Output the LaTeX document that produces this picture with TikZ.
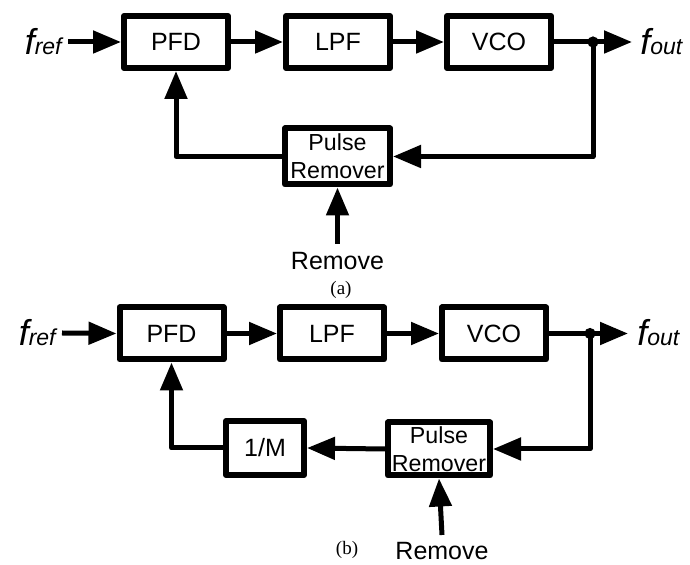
\documentclass[tikz,border=0pt]{standalone}
\usepackage{fontspec}
\setmainfont{Liberation Sans}
\newfontfamily\capfont{Liberation Serif}
\usetikzlibrary{arrows.meta}

% signal name: big italic f with a smaller italic tag
\newcommand\fsig[1]{{\fontsize{18}{18}\selectfont\itshape f}{\fontsize{11.5}{12}\selectfont\itshape #1}}

\begin{document}
\begin{tikzpicture}[x=0.5pt, y=-0.5pt, line join=round, >={Triangle[length=14pt,width=11pt]},
	blk/.style={draw, line width=3pt, minimum width=52pt, minimum height=26pt, inner sep=1pt,
		align=center, font=\fontsize{12.5}{14.5}\selectfont},
	prbox/.style={blk, font=\fontsize{11.6}{14}\selectfont},
	wire/.style={line width=2.5pt},
	lbl/.style={font=\fontsize{12.5}{14}\selectfont, inner sep=1pt},
	subcap/.style={font=\capfont\fontsize{9.5}{11}\selectfont, inner sep=0pt}]
	\useasboundingbox (0,0) rectangle (690,565);

	% (a) loop with the pulse remover in the feedback path
	\node[blk] (pfdA) at (176,42) {PFD};
	\node[blk] (lpfA) at (338,42) {LPF};
	\node[blk] (vcoA) at (499,42) {VCO};
	\node[prbox, minimum width=52.5pt, minimum height=28pt] (prA) at (337.5,156.5) {Pulse\\Remover};
	\node[anchor=east, inner sep=3pt] (frefA) at (68,42) {\fsig{ref}};
	\node[anchor=west, inner sep=2pt] (foutA) at (636,42) {\fsig{out}};
	\coordinate (dotA) at (593,42);
	\coordinate (outA) at (632,42);
	\coordinate (rmA) at (337.5,244);
	\node[lbl] (rmtA) at (337.5,261) {Remove};
	\node[subcap] (capA) at (341,290) {(a)};

	\draw[wire,->] (frefA.east) -- (pfdA.west);
	\draw[wire,->] (pfdA) -- (lpfA);
	\draw[wire,->] (lpfA) -- (vcoA);
	\draw[wire,->] (vcoA.east) -- (outA);
	\draw[wire,->] (dotA) |- (prA.east);
	\draw[wire,->] (prA.west) -| (pfdA.south);
	\draw[wire,->] (rmA) -- (prA.south);
	\fill (dotA) circle (2.8pt);

	% (b) same loop with a 1/M divider after the pulse remover
	\node[blk] (pfdB) at (171.5,333.5) {PFD};
	\node[blk] (lpfB) at (332,333.5) {LPF};
	\node[blk] (vcoB) at (494,333.5) {VCO};
	\node[prbox, minimum width=51pt, minimum height=26.5pt] (prB) at (439,449) {Pulse\\Remover};
	\node[blk, minimum width=39pt, minimum height=27pt] (divB) at (265,448) {1/M};
	\node[anchor=east, inner sep=3pt] (frefB) at (62,333) {\fsig{ref}};
	\node[anchor=west, inner sep=2pt] (foutB) at (633,333) {\fsig{out}};
	\coordinate (dotB) at (590,333.5);
	\coordinate (outB) at (628,333.5);
	\coordinate (rmB) at (442,535);
	\node[lbl] (rmtB) at (442,551) {Remove};
	\node[subcap] (capB) at (347,550) {(b)};

	\draw[wire,->] (frefB.east) -- (pfdB.west);
	\draw[wire,->] (pfdB) -- (lpfB);
	\draw[wire,->] (lpfB) -- (vcoB);
	\draw[wire,->] (vcoB.east) -- (outB);
	\draw[wire,->] (dotB) |- (prB.east);
	\draw[wire,->] (prB.west) -- (divB.east);
	\draw[wire,->] (divB.west) -| (pfdB.south);
	\draw[wire,->] (rmB) -- (prB.south);
	\fill (dotB) circle (2.8pt);
\end{tikzpicture}
\end{document}
